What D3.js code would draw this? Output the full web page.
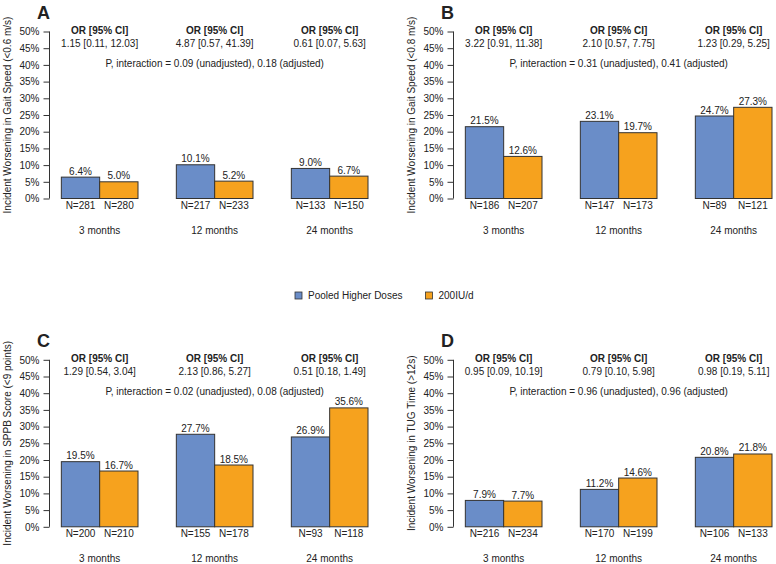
<!DOCTYPE html>
<html><head><meta charset="utf-8">
<script src="https://cdn.jsdelivr.net/npm/d3@7"></script>
<style>body{margin:0;background:#fff}svg{display:block}text{font-family:"Liberation Sans",Arial,sans-serif;fill:#222}</style>
</head><body>
<script>
const timepoints = ["3 months", "12 months", "24 months"];
const seriesNames = ["Pooled Higher Doses", "200IU/d"];
const colors = ["#6a8dc8", "#f6a21e"];
const yTicks = [0, 5, 10, 15, 20, 25, 30, 35, 40, 45, 50];

const panelLetters = ["A", "B", "C", "D"];
const yTitles = [
  "Incident Worsening in Gait Speed (<0.6 m/s)",
  "Incident Worsening in Gait Speed (<0.8 m/s)",
  "Incident Worsening in SPPB Score (<9 points)",
  "Incident Worsening in TUG Time (>12s)"
];
const pooledA = [6.4, 10.1, 9.0];
const lowA = [5.0, 5.2, 6.7];
const pooledB = [21.5, 23.1, 24.7];
const lowB = [12.6, 19.7, 27.3];
const pooledC = [19.5, 27.7, 26.9];
const lowC = [16.7, 18.5, 35.6];
const pooledD = [7.9, 11.2, 20.8];
const lowD = [7.7, 14.6, 21.8];

const nPooledA = [281, 217, 133];
const nLowA = [280, 233, 150];
const nPooledB = [186, 147, 89];
const nLowB = [207, 173, 121];
const nPooledC = [200, 155, 93];
const nLowC = [210, 178, 118];
const nPooledD = [216, 170, 106];
const nLowD = [234, 199, 133];

const orA = ["1.15 [0.11, 12.03]", "4.87 [0.57, 41.39]", "0.61 [0.07, 5.63]"];
const orB = ["3.22 [0.91, 11.38]", "2.10 [0.57, 7.75]", "1.23 [0.29, 5.25]"];
const orC = ["1.29 [0.54, 3.04]", "2.13 [0.86, 5.27]", "0.51 [0.18, 1.49]"];
const orD = ["0.95 [0.09, 10.19]", "0.79 [0.10, 5.98]", "0.98 [0.19, 5.11]"];

const pInteraction = [
  "P, interaction = 0.09 (unadjusted), 0.18 (adjusted)",
  "P, interaction = 0.31 (unadjusted), 0.41 (adjusted)",
  "P, interaction = 0.02 (unadjusted), 0.08 (adjusted)",
  "P, interaction = 0.96 (unadjusted), 0.96 (adjusted)"
];

const panels = [
  {pooled: pooledA, low: lowA, nP: nPooledA, nL: nLowA, or: orA},
  {pooled: pooledB, low: lowB, nP: nPooledB, nL: nLowB, or: orB},
  {pooled: pooledC, low: lowC, nP: nPooledC, nL: nLowC, or: orC},
  {pooled: pooledD, low: lowD, nP: nPooledD, nL: nLowD, or: orD}
];

const W = 776, H = 564;
const svg = d3.select("body").append("svg").attr("width", W).attr("height", H);

const offsets = [[0, 0], [404, 0], [0, 328.3], [404, 328.3]];

const y = d3.scaleLinear().domain([0, 50]).range([198.5, 31.5]);
const x = d3.scaleLinear().domain([0, 9]).range([23, 368]);
const axisX = 49.5;

panels.forEach((p, i) => {
  const g = svg.append("g").attr("transform", `translate(${offsets[i][0]},${offsets[i][1]})`);

  // y axis
  const ax = g.append("g").attr("transform", `translate(${axisX},0)`)
    .call(d3.axisLeft(y).tickValues(yTicks).tickFormat(d => d + "%").tickSize(6).tickPadding(4));
  ax.select(".domain").attr("stroke", "#333").attr("d", `M-0,${y(0)}H0V${y(50)}H-0`);
  ax.selectAll(".tick line").attr("stroke", "#333");
  ax.selectAll(".tick text").style("font-size", "10px").attr("fill", "#222")
    .style("font-family", '"Liberation Sans",Arial,sans-serif');

  // y title
  g.append("text")
    .attr("transform", `translate(10.5,${(y(0) + y(50)) / 2}) rotate(-90)`)
    .attr("text-anchor", "middle").style("font-size", "10px")
    .text(yTitles[i]);

  // panel letter
  g.append("text").attr("x", 37).attr("y", 18.5)
    .style("font-size", "18px").style("font-weight", "bold").text(panelLetters[i]);

  const rows = timepoints.map((t, k) => ({k, t, vals: [p.pooled[k], p.low[k]], ns: [p.nP[k], p.nL[k]], or: p.or[k]}));

  rows.forEach(r => {
    const gx = 1 + 3 * r.k;
    const center = x(gx + 1);
    r.vals.forEach((v, j) => {
      g.append("rect")
        .attr("x", x(gx + j)).attr("width", x(gx + j + 1) - x(gx + j))
        .attr("y", y(v)).attr("height", y(0) - y(v))
        .attr("fill", colors[j]).attr("stroke", "#333").attr("stroke-width", 1);
      g.append("text").attr("x", (x(gx + j) + x(gx + j + 1)) / 2).attr("y", y(v) - 2.5)
        .attr("text-anchor", "middle").style("font-size", "10px").text(v.toFixed(1) + "%");
      g.append("text").attr("x", (x(gx + j) + x(gx + j + 1)) / 2).attr("y", 209)
        .attr("text-anchor", "middle").style("font-size", "10px").text("N=" + r.ns[j]);
    });
    g.append("text").attr("x", center).attr("y", 233.5)
      .attr("text-anchor", "middle").style("font-size", "10px").text(r.t);
    g.append("text").attr("x", center).attr("y", 34)
      .attr("text-anchor", "middle").style("font-size", "10px").style("font-weight", "bold").text("OR [95% CI]");
    g.append("text").attr("x", center).attr("y", 47)
      .attr("text-anchor", "middle").style("font-size", "10px").text(r.or);
  });

  g.append("text").attr("x", x(5)).attr("y", 67)
    .attr("text-anchor", "middle").style("font-size", "10px").text(pInteraction[i]);
});

// legend
const legX = [295, 425.5];
seriesNames.forEach((s, j) => {
  svg.append("rect").attr("x", legX[j]).attr("y", 292).attr("width", 7).attr("height", 7)
    .attr("fill", colors[j]).attr("stroke", "#333").attr("stroke-width", 0.8);
  svg.append("text").attr("x", legX[j] + 13).attr("y", 299.3).style("font-size", "10px").text(s);
});
</script>
</body></html>
